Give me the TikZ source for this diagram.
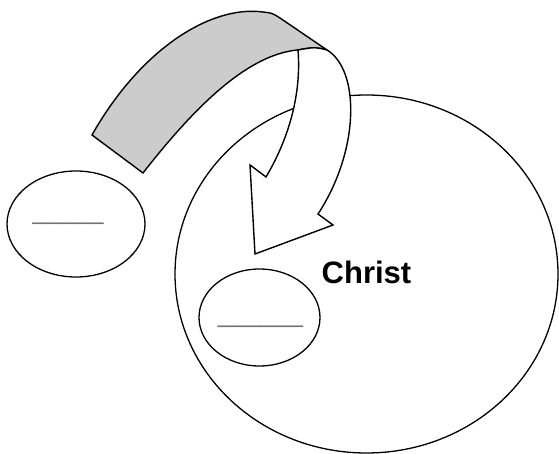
\documentclass[tikz,border=0pt]{standalone}
\usepackage{fontspec}
\setmainfont{Liberation Sans}
\usetikzlibrary{shapes.geometric}
\tikzset{
  oval/.style={ellipse,draw=black,line width=1.3pt,inner sep=0pt,fill=white},
  blank/.style={inner sep=0pt,anchor=base,text=black!55,font=\fontsize{25.5}{30}\selectfont},
  band/.style={draw=black,line width=1.4pt,line join=miter}
}
\begin{document}
\begin{tikzpicture}[x=1pt,y=-1pt]
\useasboundingbox (0,0) rectangle (559,454);
% big circle
\node[oval,minimum width=383,minimum height=358] (christ) at (366.5,274) {};
% left small ellipse
\node[oval,minimum width=138,minimum height=106] (outside) at (76,224) {};
% inner small ellipse
\node[oval,minimum width=121,minimum height=97] (inside) at (259.5,317.5) {};
% gray back band of the arrow
\draw[band,fill=black!20] (92,135) .. controls (140,50) and (210,5) .. (263,12)
  .. controls (272,13) .. (280,18) -- (327,50)
  .. controls (315,47) .. (297,50)
  .. controls (250,55) and (200,100) .. (143,173) -- cycle;
% white front of the arrow
\draw[band,fill=white] (298,50) .. controls (302,100) and (285,145) .. (266,177)
  -- (250,165) -- (255,254) -- (333,225) -- (318,214)
  .. controls (360,150) and (360,70) .. (327,50)
  .. controls (315,47) .. (298,50) -- cycle;
% texts
\node[anchor=base west,inner sep=0pt,font=\fontsize{31}{36}\selectfont\bfseries] (label) at (321.5,283) {Christ};
\node[blank] (blankout) at (68,219.7) {\_\_\_\_\_};
\node[blank] (blankin) at (260.5,322.7) {\_\_\_\_\_\_};
\end{tikzpicture}
\end{document}
